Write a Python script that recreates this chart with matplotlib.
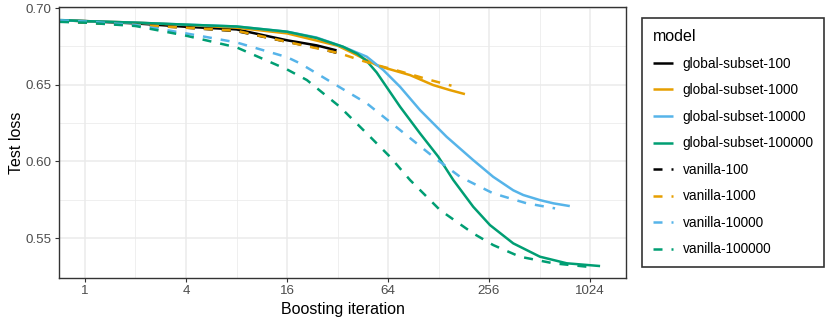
import matplotlib
matplotlib.use("Agg")
import matplotlib.pyplot as plt
from matplotlib.lines import Line2D
from matplotlib.ticker import NullFormatter

plt.rcParams['font.family'] = ['Liberation Sans', 'DejaVu Sans']

# Значення
labels = ["global-subset-100", "global-subset-1000", "global-subset-10000", "global-subset-100000",
          "vanilla-100", "vanilla-1000", "vanilla-10000", "vanilla-100000"]
colors = ["#000000", "#E69F00", "#56B4E9", "#009E73"] * 2

gs100_x = [0.71, 1, 2, 4, 8, 16, 24, 31.6]
gs100_y = [0.692, 0.6915, 0.690, 0.6878, 0.6861, 0.679, 0.6757, 0.6724]

gs1000_x = [0.71, 1, 2, 4, 8, 16, 32, 39.8, 45.6, 54.8, 62.8, 86.6, 119, 150, 184]
gs1000_y = [0.692, 0.6915, 0.6905, 0.689, 0.6872, 0.6835, 0.6755, 0.6705, 0.6672, 0.6628,
            0.6607, 0.6563, 0.6498, 0.6465, 0.6439]

gs10000_x = [0.71, 1, 2, 4, 8, 16, 24, 34.5, 47.8, 60, 75.5, 99.3, 143, 206, 271, 357, 410,
             515, 619, 776]
gs10000_y = [0.692, 0.6915, 0.6905, 0.6892, 0.688, 0.6846, 0.6808, 0.6748, 0.6683, 0.6596,
             0.6487, 0.6335, 0.6161, 0.6009, 0.590, 0.5812, 0.5781, 0.5748, 0.5727, 0.5709]

gs100000_x = [0.71, 1, 2, 4, 8, 16, 24, 34.5, 42, 47.8, 54.8, 75.5, 99.3, 127.6, 156.8, 206,
              259.5, 357, 515, 744, 1176]
gs100000_y = [0.6922, 0.6915, 0.6905, 0.6892, 0.688, 0.6846, 0.6805, 0.6748, 0.6702, 0.6655,
              0.6580, 0.6357, 0.6183, 0.6031, 0.5879, 0.5705, 0.5585, 0.5466, 0.5379, 0.5336,
              0.5318]

v100_x = [0.71, 1, 2, 4, 8, 16, 24, 31.6]
v100_y = [0.6915, 0.6905, 0.689, 0.6872, 0.685, 0.678, 0.6742, 0.6708]

v1000_x = [0.71, 1, 2, 4, 8, 16, 33, 43.6, 54.8, 68.8, 90.5, 114, 153]
v1000_y = [0.6915, 0.6905, 0.689, 0.6872, 0.6852, 0.678, 0.6705, 0.6661, 0.6628, 0.660,
           0.6563, 0.6531, 0.6494]

v10000_x = [0.71, 1, 2, 4, 8, 16, 19.1, 30.2, 47.8, 75.5, 119, 172, 271, 429, 634]
v10000_y = [0.692, 0.6912, 0.689, 0.6835, 0.6776, 0.668, 0.664, 0.6509, 0.6379, 0.6205,
            0.6031, 0.590, 0.5792, 0.5727, 0.5694]

v100000_x = [0.71, 1, 2, 4, 8, 16, 21, 33, 47.8, 65.7, 86.6, 130.7, 206, 271, 391, 619, 977]
v100000_y = [0.691, 0.6905, 0.6883, 0.682, 0.6744, 0.660, 0.6531, 0.6357, 0.6183, 0.6031,
             0.5879, 0.5683, 0.5531, 0.5455, 0.5379, 0.5336, 0.5314]

series_x = [gs100_x, gs1000_x, gs10000_x, gs100000_x, v100_x, v1000_x, v10000_x, v100000_x]
series_y = [gs100_y, gs1000_y, gs10000_y, gs100000_y, v100_y, v1000_y, v10000_y, v100000_y]

x_ticks = [1, 4, 16, 64, 256, 1024]
x_minor = [2, 8, 32, 128, 512]
y_ticks = [0.55, 0.60, 0.65, 0.70]
y_minor = [0.575, 0.625, 0.675]

fig = plt.figure(figsize=(8.3, 3.27), dpi=100)
ax = fig.add_axes([0.0711, 0.1498, 0.6831, 0.8288])

for i in range(8):
    ls = '-' if i < 4 else (0, (3.6, 3.6))
    ax.plot(series_x[i], series_y[i], color=colors[i], lw=1.8, linestyle=ls,
            label=labels[i], solid_capstyle='butt', dash_capstyle='butt',
            solid_joinstyle='round')

ax.set_xscale('log', base=2)
ax.set_xlim(0.70, 1678)
ax.set_ylim(0.524, 0.7007)
ax.set_xticks(x_ticks)
ax.set_xticklabels([str(t) for t in x_ticks])
ax.set_xticks(x_minor, minor=True)
ax.xaxis.set_minor_formatter(NullFormatter())
ax.set_yticks(y_ticks)
ax.set_yticklabels(["%.2f" % t for t in y_ticks])
ax.set_yticks(y_minor, minor=True)
ax.yaxis.set_minor_formatter(NullFormatter())

ax.grid(True, which='major', color='#EBEBEB', lw=1.1)
ax.grid(True, which='minor', color='#EBEBEB', lw=0.55)
ax.set_axisbelow(True)
ax.tick_params(which='minor', length=0)
ax.tick_params(which='major', length=3.2, width=0.8, color='#333333',
               labelsize=9.6, labelcolor='#4D4D4D', pad=2)
for s in ax.spines.values():
    s.set_color('#333333')
    s.set_linewidth(1.0)

ax.set_xlabel("Boosting iteration", fontsize=11.5, labelpad=3.5)
ax.set_ylabel("Test loss", fontsize=11.5, labelpad=1)

handles = [Line2D([], [], color=colors[i], lw=1.8,
                  linestyle='-' if i < 4 else (0, (3.6, 3.6)),
                  solid_capstyle='butt', dash_capstyle='butt') for i in range(8)]
leg = fig.legend(handles, labels, title="model", loc='upper left',
                 bbox_to_anchor=(0.7739, 0.944), borderaxespad=0,
                 fontsize=9.8, title_fontsize=11.5,
                 frameon=True, fancybox=False, edgecolor='black', borderpad=0.8,
                 labelspacing=0.92, handlelength=1.45, handletextpad=0.7)
leg._legend_box.align = "left"
leg.get_frame().set_linewidth(1.2)

plt.savefig("out.png", dpi=100)
